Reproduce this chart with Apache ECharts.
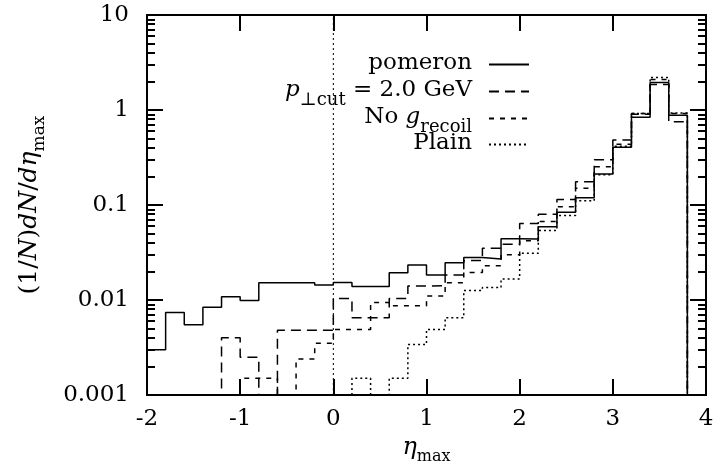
<!DOCTYPE html>
<html><head><meta charset="utf-8">
<script src="https://cdn.jsdelivr.net/npm/echarts@6/dist/echarts.min.js"></script>
<style>html,body{margin:0;padding:0;background:#fff}#c{width:713px;height:463px}</style>
</head><body><div id="c"></div>
<script>
// bin left edges (width 0.2) and last right edge
const binLeft = [-2.0,-1.8,-1.6,-1.4,-1.2,-1.0,-0.8,-0.6,-0.4,-0.2,0.0,0.2,0.4,0.6,0.8,1.0,1.2,1.4,1.6,1.8,2.0,2.2,2.4,2.6,2.8,3.0,3.2,3.4,3.6];
const binEnd = 3.8;
const pomeron  = [0.0030,0.0074,0.0055,0.0084,0.0108,0.0099,0.0152,0.0152,0.0152,0.0144,0.0153,0.0139,0.0139,0.0193,0.0233,0.0183,0.0247,0.0280,0.0270,0.0440,0.0438,0.0590,0.0838,0.119,0.2125,0.405,0.84,1.95,0.88];
const ptcut    = [0,0,0,0,0.0040,0.0025,0,0.0048,0.0048,0.0048,0.0104,0.0065,0.0065,0.0104,0.0140,0.0142,0.0183,0.026,0.035,0.0386,0.064,0.080,0.114,0.176,0.30,0.483,0.90,1.85,0.75];
const noRecoil = [0,0,0,0,0,0.0015,0.0015,0,0.0024,0.0035,0.0049,0.0049,0.0094,0.0087,0.0087,0.011,0.0152,0.0195,0.023,0.030,0.042,0.067,0.096,0.150,0.253,0.435,0.92,2.1,0.92];
const plain    = [0,0,0,0,0,0,0,0,0,0,0,0.0015,0,0.0015,0.0034,0.0049,0.0065,0.0126,0.0135,0.0166,0.031,0.054,0.0775,0.111,0.208,0.415,0.92,2.2,0.93];
const xTicks = [-2,-1,0,1,2,3,4];
const yTickValues = [0.001,0.01,0.1,1,10];
const yTickLabels = ['0.001','0.01','0.1','1','10'];
const yMinorValues = [0.002,0.003,0.004,0.005,0.006,0.007,0.008,0.009,0.02,0.03,0.04,0.05,0.06,0.07,0.08,0.09,0.2,0.3,0.4,0.5,0.6,0.7,0.8,0.9,2,3,4,5,6,7,8,9];

const FLOOR = 1e-4; // empty bins fall below the log axis and are clipped
function steps(vals){
  const d = binLeft.map((x,i)=>[x, vals[i] > 0 ? vals[i] : FLOOR]);
  d.push([binEnd, FLOOR]);
  return d;
}
const FONT = 'DejaVu Serif';
function rich(fs, ss, drop){
  return {
    n:{fontFamily:FONT,fontSize:fs,verticalAlign:'top',lineHeight:fs+2},
    it:{fontFamily:FONT,fontStyle:'italic',fontSize:fs,verticalAlign:'top',lineHeight:fs+2},
    sub:{fontFamily:FONT,fontSize:ss,verticalAlign:'top',lineHeight:ss,padding:[drop,0,0,0]}
  };
}
const legendText = {
  'pomeron':'{n|pomeron}',
  'ptcut':'{it|p}{sub|⊥cut}{n| = 2.0 GeV}',
  'norecoil':'{n|No }{it|g}{sub|recoil}',
  'plain':'{n|Plain}'
};
const names = ['pomeron','ptcut','norecoil','plain'];
const dashes = ['solid',[10,6],[5,6],[2,3]];
const datas = [pomeron, ptcut, noRecoil, plain];
const rowTop = [52,79,106,132];

const chart = echarts.init(document.getElementById('c'));
const black = '#000';
function yAx(pos, values, len, labels){
  return {type:'log',logBase:10,min:0.001,max:10,position:pos,
    axisLine:{show:true,onZero:false,lineStyle:{color:black,width:2}},
    axisTick:{show:true,inside:true,length:len,customValues:values,lineStyle:{color:black,width:2}},
    axisLabel:{show:labels,customValues:values,margin:18,color:black,fontFamily:FONT,fontSize:23,
      formatter:(v)=>{const i=yTickValues.findIndex(t=>Math.abs(Math.log10(t)-Math.log10(v))<1e-6);return i>=0?yTickLabels[i]:'';}},
    splitLine:{show:false},minorTick:{show:false}};
}
const yAxes = [yAx('left',yTickValues,16,true), yAx('left',yMinorValues,8,false), yAx('right',yTickValues,16,false), yAx('right',yMinorValues,8,false)];
yAxes[0].name = '{n|(1/}{it|N}{n|)}{it|dN}{n|/}{it|dη}{sub|max}';
yAxes[0].nameLocation = 'middle';
yAxes[0].nameRotate = 90;
yAxes[0].nameGap = 103;
yAxes[0].nameTextStyle = {color:black,rich:rich(25,17,14)};

function xAx(pos, labels){
  return {type:'value',min:-2,max:4,interval:1,position:pos,
    axisLine:{show:true,onZero:false,lineStyle:{color:black,width:2}},
    axisTick:{show:true,inside:true,length:16,lineStyle:{color:black,width:2}},
    axisLabel:{show:labels,margin:13,color:black,fontFamily:FONT,fontSize:23},
    splitLine:{show:false}};
}
const xAxes = [xAx('bottom',true), xAx('top',false)];
xAxes[0].name = '{it|η}{sub|max}';
xAxes[0].nameLocation = 'middle';
xAxes[0].nameGap = 37;
xAxes[0].nameTextStyle = {color:black,rich:rich(24,16,13)};

const series = names.map((nm,i)=>({
  name:nm,type:'line',step:'end',data:steps(datas[i]),symbol:'none',showSymbol:false,clip:true,
  xAxisIndex:0,yAxisIndex:0,
  lineStyle:{color:black,width:1.5,type:dashes[i]},itemStyle:{color:black},z:3
}));
series.push({name:'zero',type:'line',data:[[0,0.001],[0,10]],symbol:'none',silent:true,
  xAxisIndex:0,yAxisIndex:0,lineStyle:{color:black,width:1,type:[2,3]},z:2});

const legends = names.map((nm,i)=>({
  data:[nm],orient:'vertical',right:183,top:rowTop[i],align:'right',itemWidth:40,itemHeight:14,
  padding:0,selectedMode:false,
  itemStyle:{opacity:0,borderWidth:0},
  formatter:(n)=>legendText[n],
  textStyle:{color:black,fontFamily:FONT,fontSize:23,rich:rich(23,18,12),padding:[0,12,0,0]}
}));

chart.setOption({
  animation:false,
  backgroundColor:'#fff',
  grid:{left:147,right:7,top:15,bottom:68,containLabel:false,outerBoundsMode:'none'},
  xAxis:xAxes, yAxis:yAxes, legend:legends, series:series
});
</script></body></html>
